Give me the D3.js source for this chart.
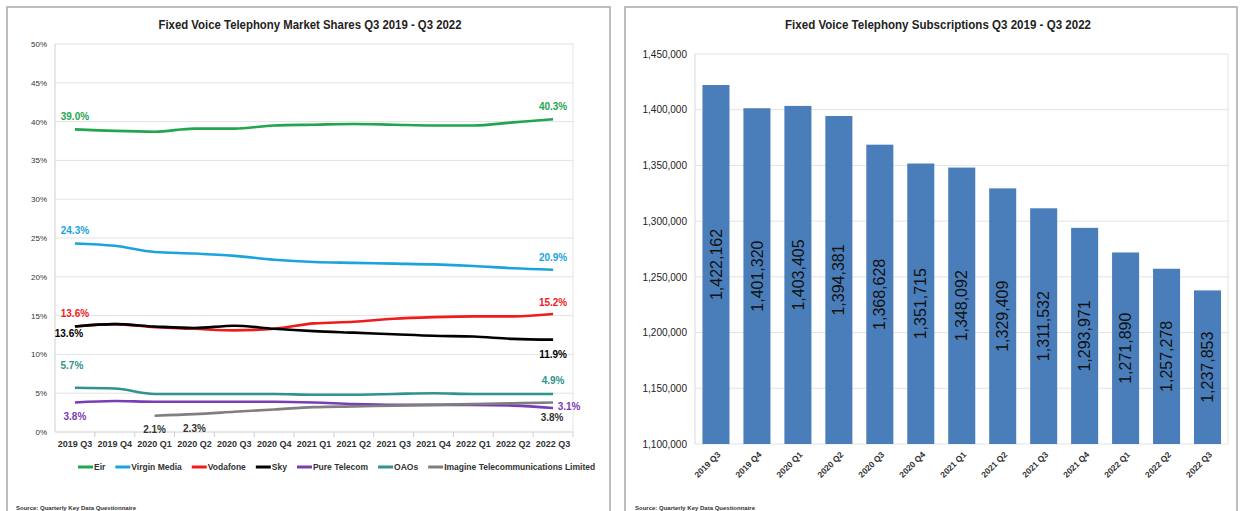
<!DOCTYPE html>
<html>
<head>
<meta charset="utf-8">
<script src="https://cdn.jsdelivr.net/npm/d3@7.9.0/dist/d3.min.js"></script>
<style>
  body { margin: 0; background: #fff; }
  svg { display: block; }
  text { font-family: 'Liberation Sans', Arial, sans-serif; }
</style>
</head>
<body>
<svg id="chart" width="1240" height="511"></svg>
<script>
// quarters shared by both charts
const quarters = ['2019 Q3', '2019 Q4', '2020 Q1', '2020 Q2', '2020 Q3', '2020 Q4',
  '2021 Q1', '2021 Q2', '2021 Q3', '2021 Q4', '2022 Q1', '2022 Q2', '2022 Q3'];

// market shares (%)
const eir = [39.0, 38.8, 38.7, 39.1, 39.1, 39.5, 39.6, 39.7, 39.6, 39.5, 39.5, 39.9, 40.3];
const virginMedia = [24.3, 24.0, 23.2, 23.0, 22.7, 22.2, 21.9, 21.8, 21.7, 21.6, 21.4, 21.1, 20.9];
const vodafone = [13.6, 13.9, 13.5, 13.3, 13.1, 13.3, 14.0, 14.2, 14.6, 14.8, 14.9, 14.9, 15.2];
const sky = [13.6, 13.9, 13.6, 13.4, 13.7, 13.3, 13.0, 12.8, 12.6, 12.4, 12.3, 12.0, 11.9];
const pureTelecom = [3.8, 4.0, 3.9, 3.9, 3.9, 3.9, 3.8, 3.6, 3.5, 3.5, 3.5, 3.4, 3.1];
const oaos = [5.7, 5.6, 4.9, 4.9, 4.9, 4.9, 4.8, 4.8, 4.9, 5.0, 4.9, 4.9, 4.9];
const imagine = [null, null, 2.1, 2.3, 2.6, 2.9, 3.2, 3.3, 3.4, 3.5, 3.6, 3.7, 3.8];

const seriesNames = ['Eir', 'Virgin Media', 'Vodafone', 'Sky', 'Pure Telecom', 'OAOs',
  'Imagine Telecommunications Limited'];
const seriesValues = [eir, virginMedia, vodafone, sky, pureTelecom, oaos, imagine];
const shareTicks = [0, 5, 10, 15, 20, 25, 30, 35, 40, 45, 50];

// subscriptions, right chart
const subscriptions = [1422162, 1401320, 1403405, 1394381, 1368628, 1351715,
  1348092, 1329409, 1311532, 1293971, 1271890, 1257278, 1237853];
const subsTicks = [1100000, 1150000, 1200000, 1250000, 1300000, 1350000, 1400000, 1450000];

const colour = d3.scaleOrdinal()
  .domain(seriesNames)
  .range(['#1fa64f', '#1aa3dc', '#f01c1c', '#000000', '#7a3db5', '#2f948c', '#7f7f7f']);

const svg = d3.select('#chart');

// panel frames
svg.append('rect').attr('x', 7).attr('y', 7).attr('width', 603).attr('height', 540)
  .attr('fill', 'none').attr('stroke', '#a9a9a9').attr('stroke-width', 1.5);
svg.append('rect').attr('x', 625).attr('y', 7).attr('width', 612).attr('height', 540)
  .attr('fill', 'none').attr('stroke', '#a9a9a9').attr('stroke-width', 1.5);

// ---------- left: market shares ----------
const left = svg.append('g');
let x = d3.scaleBand().domain(quarters).range([55, 573]);
let y = d3.scaleLinear().domain([0, 50]).range([432, 44]);
const cx = (q) => x(q) + x.bandwidth() / 2;

left.append('text')
  .attr('x', 310).attr('y', 29).attr('text-anchor', 'middle')
  .attr('font-size', 13).attr('font-weight', 'bold').attr('fill', '#222')
  .attr('textLength', 303).attr('lengthAdjust', 'spacingAndGlyphs')
  .text('Fixed Voice Telephony Market Shares  Q3 2019 - Q3 2022');

left.selectAll('.grid').data(shareTicks.slice(1)).join('line')
  .attr('x1', 55).attr('x2', 573)
  .attr('y1', (d) => y(d)).attr('y2', (d) => y(d))
  .attr('stroke', '#e3e3e3');
left.append('line').attr('x1', 573).attr('x2', 573).attr('y1', y(50)).attr('y2', y(0)).attr('stroke', '#e3e3e3');
left.append('line').attr('x1', 55).attr('x2', 55).attr('y1', y(50)).attr('y2', y(0)).attr('stroke', '#d0d0d0');
left.append('line').attr('x1', 55).attr('x2', 573).attr('y1', y(0)).attr('y2', y(0)).attr('stroke', '#d0d0d0');
// tick marks between categories
left.selectAll('.xtick').data(quarters).join('line')
  .attr('x1', (d) => x(d) + x.step())
  .attr('x2', (d) => x(d) + x.step())
  .attr('y1', y(0)).attr('y2', y(0) + 5).attr('stroke', '#d0d0d0');

let yAxis = left.append('g').attr('transform', 'translate(55,0)')
  .call(d3.axisLeft(y).tickValues(shareTicks).tickFormat((d) => d + '%').tickSize(0).tickPadding(8));
yAxis.select('.domain').remove();
yAxis.selectAll('text').attr('font-size', 8).attr('fill', '#333');

let xAxis = left.append('g').attr('transform', `translate(0,${y(0)})`)
  .call(d3.axisBottom(x).tickSize(0).tickPadding(9));
xAxis.select('.domain').remove();
xAxis.selectAll('text').attr('font-size', 9).attr('font-weight', 'bold').attr('fill', '#333');

const line = d3.line()
  .defined((d) => d != null)
  .x((d, i) => cx(quarters[i]))
  .y((d) => y(d))
  .curve(d3.curveMonotoneX);

seriesNames.forEach((name, s) => {
  left.append('path')
    .attr('d', line(seriesValues[s]))
    .attr('fill', 'none')
    .attr('stroke', colour(name))
    .attr('stroke-width', 2.6);
});

// data labels: which point, and nudge from it
const shareLabels = [
  { s: 0, i: 0, dx: 0, dy: -13 }, { s: 0, i: 12, dx: 0, dy: -13 },
  { s: 1, i: 0, dx: 0, dy: -13 }, { s: 1, i: 12, dx: 0, dy: -12 },
  { s: 2, i: 0, dx: 0, dy: -13 }, { s: 2, i: 12, dx: 0, dy: -12 },
  { s: 3, i: 0, dx: -6, dy: 7 }, { s: 3, i: 12, dx: 0, dy: 15 },
  { s: 5, i: 0, dx: -3, dy: -22 }, { s: 5, i: 12, dx: 0, dy: -13 },
  { s: 4, i: 0, dx: 0, dy: 14 }, { s: 4, i: 12, dx: 16, dy: -1 },
  { s: 6, i: 2, dx: 0, dy: 14 }, { s: 6, i: 3, dx: 0, dy: 14 }, { s: 6, i: 12, dx: -1, dy: 15 }
];
left.selectAll('.lbl').data(shareLabels).join('text')
  .attr('x', (d) => cx(quarters[d.i]) + d.dx)
  .attr('y', (d) => y(seriesValues[d.s][d.i]) + d.dy)
  .attr('dy', '0.35em')
  .attr('text-anchor', 'middle')
  .attr('font-size', 10).attr('font-weight', 'bold')
  .attr('fill', (d) => d.s === 6 ? '#333' : colour(seriesNames[d.s]))
  .text((d) => seriesValues[d.s][d.i].toFixed(1) + '%');

// legend
let lx = 78;
seriesNames.forEach((name) => {
  left.append('line').attr('x1', lx).attr('x2', lx + 15).attr('y1', 467).attr('y2', 467)
    .attr('stroke', colour(name)).attr('stroke-width', 3);
  let t = left.append('text').attr('x', lx + 16).attr('y', 467).attr('dy', '0.35em')
    .attr('font-size', 8.5).attr('font-weight', 'bold').attr('fill', '#333').text(name);
  lx += 16 + t.node().getComputedTextLength() + 10;
});

left.append('text').attr('x', 16).attr('y', 510)
  .attr('font-size', 6).attr('font-weight', 'bold').attr('fill', '#333')
  .text('Source: Quarterly Key Data Questionnaire');

// ---------- right: subscriptions ----------
const right = svg.append('g');
let xb = d3.scaleBand().domain(quarters).range([695.5, 1228]).paddingInner(0.34).paddingOuter(0.17);
let yb = d3.scaleLinear().domain([1100000, 1450000]).range([444, 54]);

right.append('text')
  .attr('x', 938).attr('y', 29).attr('text-anchor', 'middle')
  .attr('font-size', 13).attr('font-weight', 'bold').attr('fill', '#222')
  .attr('textLength', 306).attr('lengthAdjust', 'spacingAndGlyphs')
  .text('Fixed Voice Telephony Subscriptions Q3 2019 - Q3 2022');

right.selectAll('.grid').data(subsTicks).join('line')
  .attr('x1', 695).attr('x2', 1228)
  .attr('y1', (d) => yb(d)).attr('y2', (d) => yb(d))
  .attr('stroke', '#e3e3e3');
right.append('line').attr('x1', 1228).attr('x2', 1228).attr('y1', yb(1450000)).attr('y2', yb(1100000)).attr('stroke', '#e3e3e3');
right.append('line').attr('x1', 695).attr('x2', 695).attr('y1', yb(1450000)).attr('y2', yb(1100000)).attr('stroke', '#d9d9d9');

let ybAxis = right.append('g').attr('transform', 'translate(695,0)')
  .call(d3.axisLeft(yb).tickValues(subsTicks).tickFormat(d3.format(',')).tickSize(0).tickPadding(8));
ybAxis.select('.domain').remove();
ybAxis.selectAll('text').attr('font-size', 10).attr('fill', '#222');

right.selectAll('.bar').data(subscriptions).join('rect')
  .attr('x', (d, i) => xb(quarters[i]))
  .attr('y', (d) => yb(d))
  .attr('width', xb.bandwidth())
  .attr('height', (d) => yb(1100000) - yb(d))
  .attr('fill', '#4a7ebb');

right.selectAll('.val').data(subscriptions).join('text')
  .attr('transform', (d, i) => `translate(${xb(quarters[i]) + xb.bandwidth() / 2},${(yb(d) + yb(1100000)) / 2}) rotate(-90)`)
  .attr('text-anchor', 'middle').attr('dy', '0.35em')
  .attr('font-size', 16).attr('fill', '#111')
  .text((d) => d3.format(',')(d));

right.selectAll('.xl').data(quarters).join('text')
  .attr('transform', (d) => `translate(${xb(d) + xb.bandwidth() / 2 + 3},453) rotate(-45)`)
  .attr('text-anchor', 'end').attr('dy', '0.35em')
  .attr('font-size', 8.5).attr('font-weight', 'bold').attr('fill', '#333')
  .text((d) => d);

right.append('text').attr('x', 635).attr('y', 510)
  .attr('font-size', 6).attr('font-weight', 'bold').attr('fill', '#333')
  .text('Source: Quarterly Key Data Questionnaire');
</script>
</body>
</html>
